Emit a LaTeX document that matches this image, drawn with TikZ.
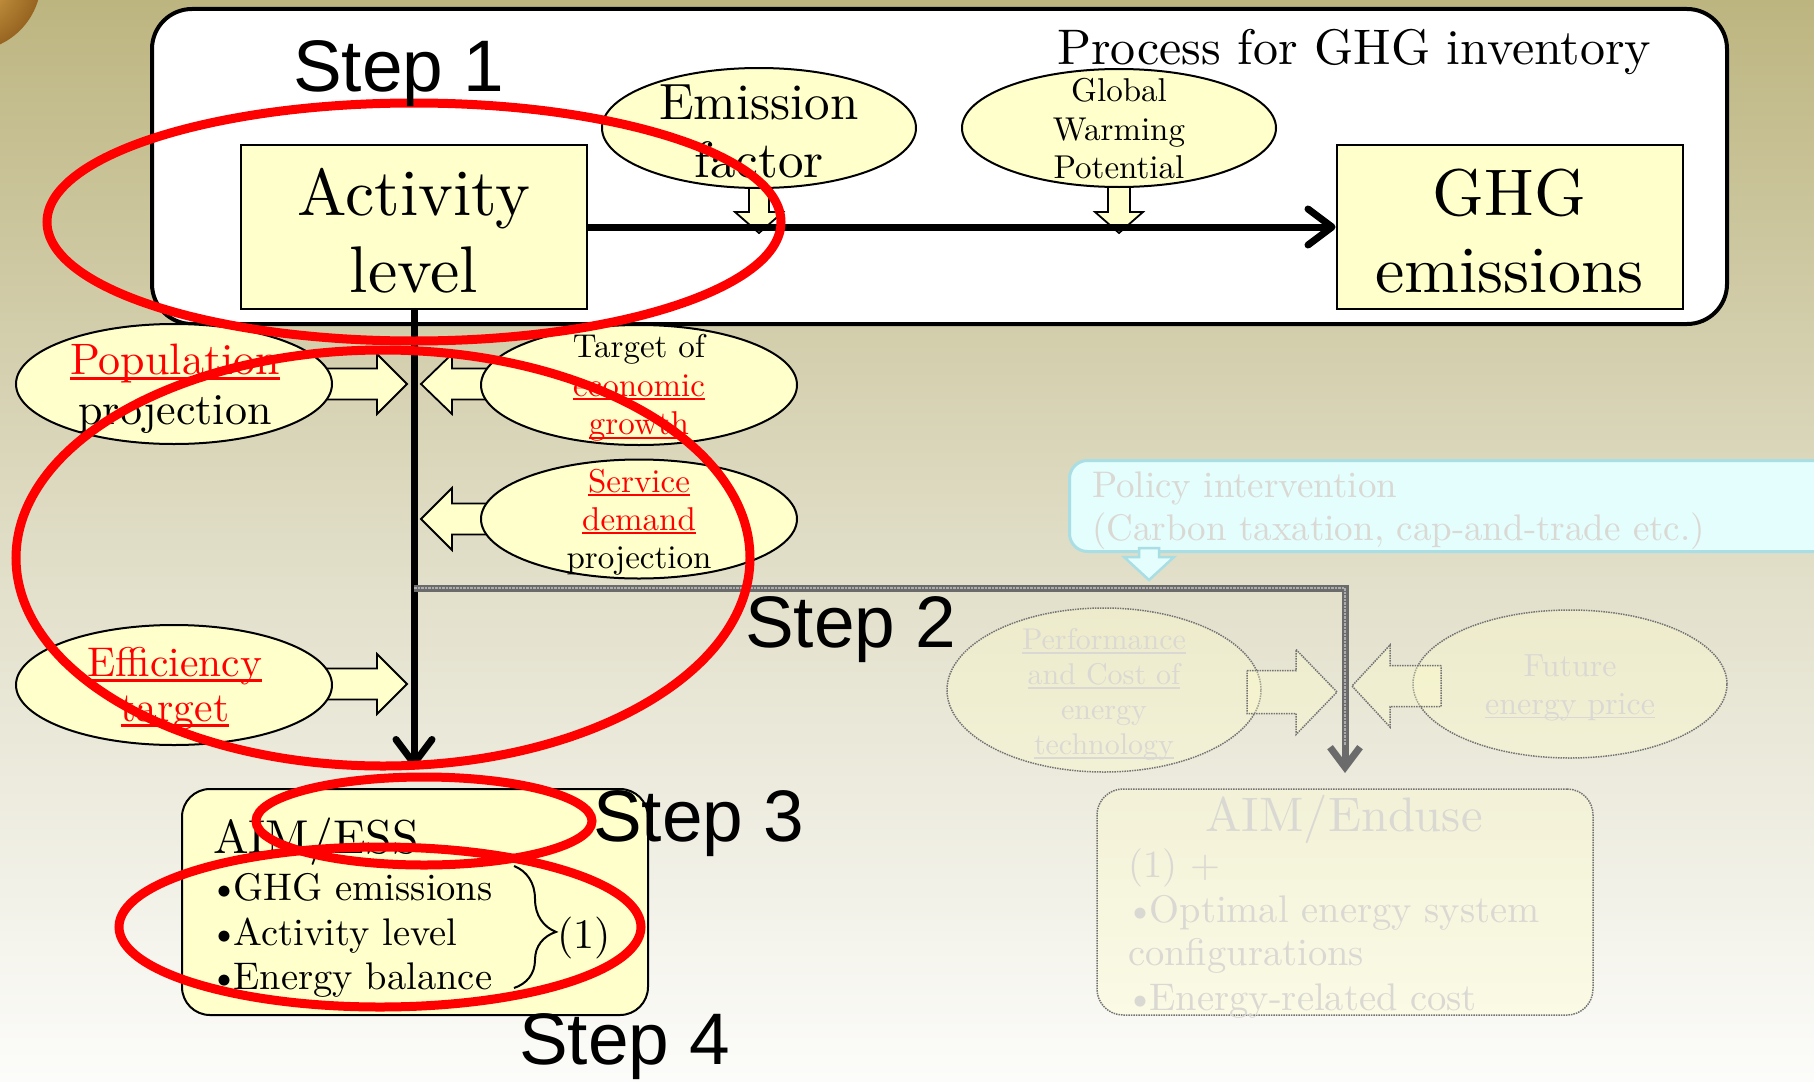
\documentclass[tikz,border=0pt]{standalone}
\usepackage{fontspec}
\setmainfont{lmroman10-regular.otf}
\newfontfamily\stepfont{Liberation Sans}
\usetikzlibrary{shapes.geometric,arrows.meta,decorations.pathreplacing}

\definecolor{bgtop}{RGB}{189,181,128}
\definecolor{bgmid}{RGB}{224,221,198}
\definecolor{bgbot}{RGB}{252,252,250}
\definecolor{paleyel}{RGB}{255,255,204}
\definecolor{fadetxt}{RGB}{218,216,210}
\definecolor{cyanfill}{RGB}{228,253,253}
\definecolor{cyanline}{RGB}{168,222,228}
\definecolor{coinA}{RGB}{226,176,82}
\definecolor{coinB}{RGB}{150,100,32}
\definecolor{ringred}{RGB}{255,0,0}

\newcommand\fs[2]{\fontsize{#1}{#2}\selectfont}
% underline at a fixed depth below the baseline
\newcommand\uln[1]{{\setbox0\hbox{#1}\rlap{\rule[-0.12em]{\wd0}{0.06em}}\box0}}
\newcommand\redul[1]{\textcolor{red}{\uln{#1}}}
% tight bullet for the list items
\newcommand\tb{\kern-0.08em\textbullet\kern-0.14em}
% horizontal block arrow: style, tail x, head base x, tip x, centre y, shaft half, head half
\newcommand\harr[7]{\draw[#1] (#2,#5-#6) -- (#3,#5-#6) -- (#3,#5-#7) -- (#4,#5) -- (#3,#5+#7) -- (#3,#5+#6) -- (#2,#5+#6) -- cycle;}
% vertical block arrow: style, tail y, head base y, tip y, centre x, shaft half, head half
\newcommand\varr[7]{\draw[#1] (#5-#6,#2) -- (#5-#6,#3) -- (#5-#7,#3) -- (#5,#4) -- (#5+#7,#3) -- (#5+#6,#3) -- (#5+#6,#2) -- cycle;}

\begin{document}
\begin{tikzpicture}[x=1pt,y=-1pt,
  yelbox/.style={draw=black, line width=2pt, fill=paleyel, minimum width=346pt, minimum height=164pt, inner sep=0pt},
  ell/.style={ellipse, draw=black, line width=2pt, fill=paleyel, inner sep=0pt, minimum width=316pt, minimum height=120pt},
  faintell/.style={ellipse, draw=black!55, densely dotted, line width=1.5pt, fill=paleyel, fill opacity=0.35, inner sep=0pt},
  txt/.style={inner sep=0pt, align=center},
  fadet/.style={inner sep=0pt, text=fadetxt},
  blk/.style={draw=black, line width=1.8pt, fill=paleyel},
  faintblk/.style={draw=black!55, densely dotted, line width=1.5pt, fill=paleyel, fill opacity=0.35},
  cyanblk/.style={draw=cyanline, line width=2.5pt, fill=cyanfill},
  flow/.style={line width=7pt, -{Straight Barb[length=24pt,width=36pt,round]}},
  grayflow/.style={line width=7pt, black!58, -{Straight Barb[length=20pt,width=30pt]}},
  redring/.style={ellipse, draw=ringred, line width=9pt, inner sep=0pt},
  steplbl/.style={inner sep=0pt, anchor=base west, font=\stepfont\fs{73}{80}},
]
\useasboundingbox (0,0) rectangle (1814,1081);
\shade[top color=bgtop, bottom color=bgbot, middle color=bgmid] (0,0) rectangle (1814,1081);
\shade[inner color=coinA, outer color=coinB] (-30,-20) circle (71pt);

% inventory process frame
\node[draw, line width=4pt, rounded corners=40pt, fill=white, minimum width=1575pt, minimum height=315pt, inner sep=0pt] (frame) at (939.5,166.5) {};

\varr{blk}{180}{212}{233}{759}{10}{24}
\varr{blk}{180}{212}{233}{1119}{11}{24}
\node[ell, minimum width=314pt] (ef) at (759,128) {};
\node[txt, font=\fs{51}{58}] (eft) at (759,131) {Emission\\factor};
\node[ell, minimum width=314pt, minimum height=118pt] (gwp) at (1119,128) {};
\node[txt, font=\fs{33}{38.5}] (gwpt) at (1119,129) {Global\\Warming\\Potential};

\node[yelbox] (act) at (414,227) {};
\node[txt, font=\fs{66}{77}] (actt) at (414,231) {Activity\\level};
\node[yelbox] (ghg) at (1509.5,227) {};
\node[txt, font=\fs{66}{77}] (ghgt) at (1509.5,231) {GHG\\emissions};
\draw[flow] (act.east) -- (ghg.west);

\node[inner sep=0pt, anchor=base west, font=\fs{50}{60}] (title) at (1057,65) {Process for GHG inventory};

% drivers of the activity level
\harr{blk}{300}{377}{407}{384}{15.5}{30}
\harr{blk}{500}{452}{421}{384}{15.5}{30}
\harr{blk}{500}{452}{421}{519}{15.5}{31}
\harr{blk}{300}{377}{407}{684}{15.5}{30}
\node[ell] (pop) at (174,384) {};
\node[txt, font=\fs{44}{50}] (popt) at (175,389) {\redul{Population}\\projection};
\node[ell] (teg) at (639,385) {};
\node[txt, font=\fs{33}{38.5}] (tegt) at (639,388) {Target of\\\redul{economic}\\\redul{growth}};
\node[ell, minimum height=119pt] (sdp) at (639,519) {};
\node[txt, font=\fs{33}{38}] (sdpt) at (639,522) {\redul{Service}\\\redul{demand}\\projection};
\node[ell] (eff) at (174,685) {};
\node[txt, font=\fs{41.5}{45}] (efft) at (175,689) {\redul{Efficiency}\\\redul{target}};

\coordinate (vtip) at (414,767);
\draw[flow] (act.south) -- (vtip);

% branch towards the end-use model
\coordinate (split) at (414,588);
\coordinate (gtip) at (1345,773);
\coordinate (gmid) at (1345,745);
\draw[grayflow] (split) -| (gtip);
\draw[line width=2.5pt, black!32, densely dotted] (split) -| (gmid);

% policy intervention
\node[draw=cyanline, line width=3pt, fill=cyanfill, rounded corners=18pt, minimum width=800pt, minimum height=91pt, inner sep=0pt, anchor=north west] (pol) at (1068,459) {};
\varr{cyanblk}{548}{557}{580}{1149}{10}{25}
\node[fadet, anchor=base west, font=\fs{37}{43}] (polt1) at (1092,497) {Policy intervention};
\node[fadet, anchor=base west, font=\fs{37}{43}] (polt2) at (1092,540) {(Carbon taxation, cap-and-trade etc.)};

\node[faintell, minimum width=314pt, minimum height=164pt] (pct) at (1104,690) {};
\node[faintell, minimum width=314pt, minimum height=148pt] (fep) at (1570,684) {};
\harr{faintblk}{1247}{1296}{1337}{692}{21.5}{42.5}
\harr{faintblk}{1441}{1390}{1352}{686}{20.5}{41}
\node[fadet, align=center, font=\fs{30}{35}] (pctt) at (1104,695) {\uln{Performance}\\\uln{and Cost of}\\energy\\\uln{technology}};
\node[fadet, align=center, font=\fs{32}{38}] (fept) at (1570,688) {Future\\\uln{energy price}};

% AIM/ESS
\node[draw=black, line width=2pt, fill=paleyel, rounded corners=28pt, minimum width=466pt, minimum height=226pt, inner sep=0pt] (ess) at (415,902) {};
\node[inner sep=0pt, anchor=base west, font=\fs{47.5}{50}] (esst) at (213,853) {AIM/ESS};
\node[inner sep=0pt, anchor=base west, font=\fs{38.5}{44}] (essa) at (212,900) {\tb GHG emissions};
\node[inner sep=0pt, anchor=base west, font=\fs{38.5}{44}] (essb) at (212,945) {\tb Activity level};
\node[inner sep=0pt, anchor=base west, font=\fs{38.5}{44}] (essc) at (212,989) {\tb Energy balance};
\coordinate (brtop) at (514,866);
\coordinate (brbot) at (514,988);
\draw[line width=2pt, decorate, decoration={brace, amplitude=42pt, aspect=0.54}] (brtop) -- (brbot);
\node[inner sep=0pt, font=\fs{42}{46}] (one) at (584,938) {(1)};

% AIM/Enduse
\node[draw=black!55, densely dotted, line width=1.5pt, fill=paleyel, fill opacity=0.35, rounded corners=26pt, minimum width=496pt, minimum height=226pt, inner sep=0pt] (end) at (1345,902) {};
\node[fadet, anchor=base, font=\fs{48.5}{52}] (endt) at (1344,831) {AIM/Enduse};
\node[fadet, anchor=base west, font=\fs{38.5}{44}] (enda) at (1128,877) {(1) +};
\node[fadet, anchor=base west, font=\fs{38.5}{44}] (endb) at (1128,922) {\tb Optimal energy system};
\node[fadet, anchor=base west, font=\fs{38.5}{44}] (endc) at (1128,965) {configurations};
\node[fadet, anchor=base west, font=\fs{38.5}{44}] (endd) at (1128,1010) {\tb Energy-related cost};

% highlight rings
\node[redring, minimum width=734pt, minimum height=238pt] (ring1) at (414,222) {};
\node[redring, minimum width=734pt, minimum height=416pt] (ring2) at (383,558) {};
\node[redring, minimum width=336pt, minimum height=88pt] (ring3) at (424,821) {};
\node[redring, minimum width=522pt, minimum height=160pt] (ring4) at (380,927) {};

% step labels
\node[steplbl] (s1) at (293,92) {Step 1};
\node[steplbl] (s2) at (745,647) {Step 2};
\node[steplbl] (s3) at (593,841) {Step 3};
\node[steplbl] (s4) at (519,1064) {Step 4};
\end{tikzpicture}
\end{document}
